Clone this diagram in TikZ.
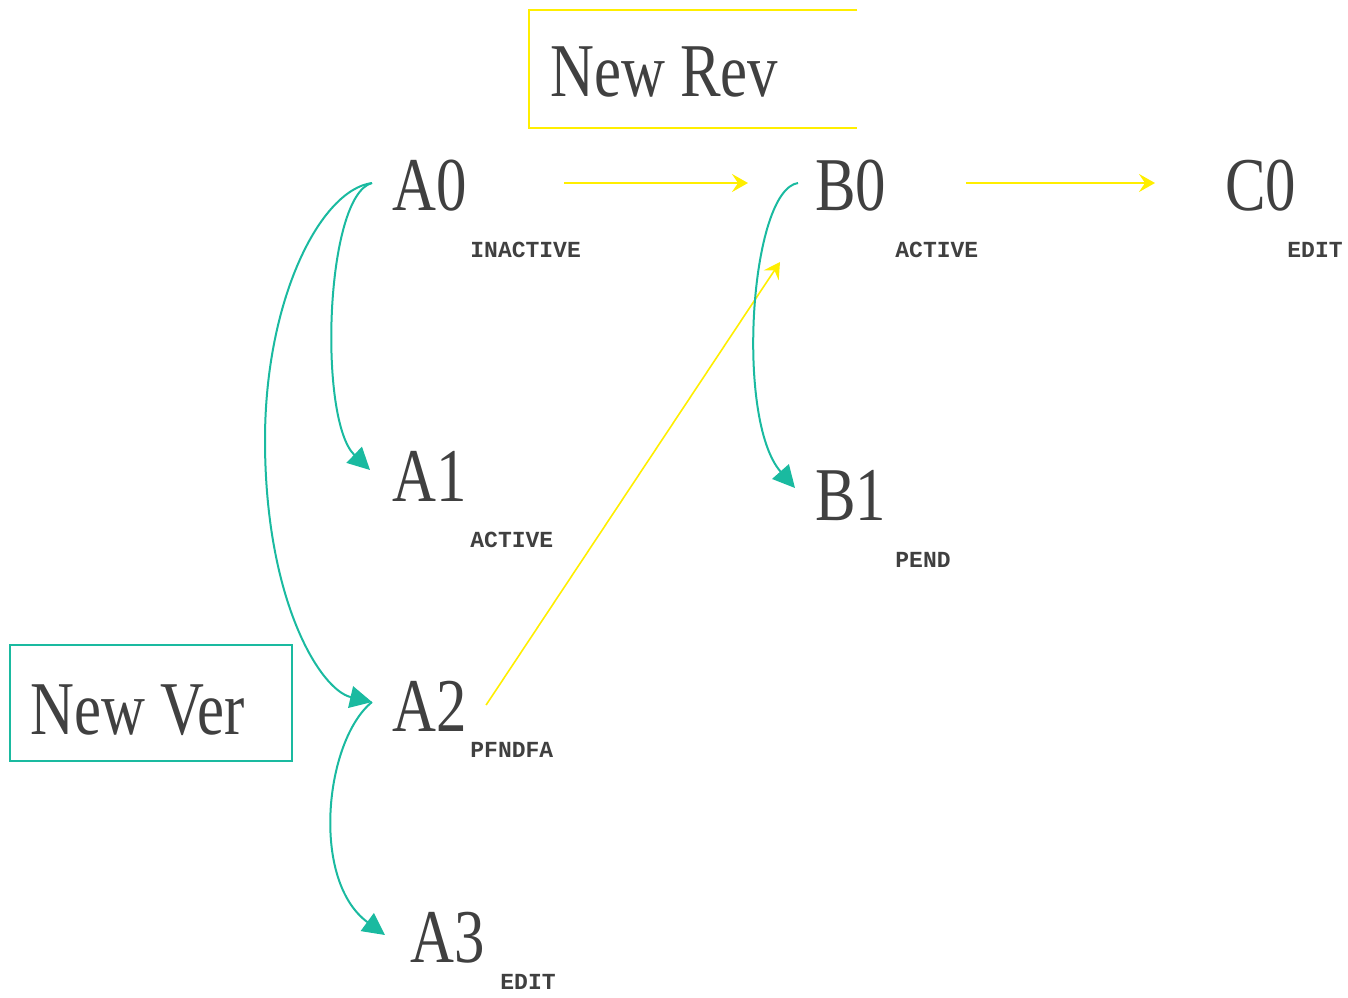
\documentclass[tikz,border=0pt]{standalone}
\usepackage{fontspec}
\setmainfont{Liberation Serif}
\newfontfamily\revfont[FakeStretch=0.8]{Liberation Serif}
\newfontfamily\tagfont{Liberation Mono}
\usetikzlibrary{arrows.meta,calc}
\definecolor{revyellow}{RGB}{255,238,0}
\definecolor{verteal}{RGB}{26,186,160}
\definecolor{inkgray}{RGB}{64,64,64}
\tikzset{
  part/.style={anchor=west,inner sep=0pt,text=inkgray,font=\revfont\fontsize{38}{40}\selectfont},
  tag/.style={anchor=west,inner sep=0pt,text=inkgray,font=\tagfont\bfseries\fontsize{11.5}{12}\selectfont},
  revline/.style={draw=revyellow,line width=1pt,-{Stealth[length=8pt,width=9pt,inset=3pt]}},
  verline/.style={draw=verteal,line width=1pt,-{Triangle[length=11pt,width=11pt]}},
}
\begin{document}
\begin{tikzpicture}[x=0.5pt,y=-0.5pt]
    \useasboundingbox (0,0) rectangle (1348,997);
    % frames
    \draw[revyellow,line width=1pt] (857,10) -- (529,10) -- (529,128) -- (857,128);
    \node[part] (rev) at (550,72) {New Rev};
    \draw[verteal,line width=1pt] (10,645) rectangle (292,761);
    \node[part] (ver) at (30,710) {New Ver};
    % parts
    \node[part] (A0) at (392,186) {A0};
    \node[part] (B0) at (815,186) {B0};
    \node[part] (C0) at (1225,186) {C0};
    \node[part] (A1) at (392,476) {A1};
    \node[part] (B1) at (815,496) {B1};
    \node[part] (A2) at (392,706) {A2};
    \node[part] (A3) at (410,938) {A3};
    % states
    \node[tag] (sA0) at (470,250) {INACTIVE};
    \node[tag] (sB0) at (895,250) {ACTIVE};
    \node[tag] (sC0) at (1287,250) {EDIT};
    \node[tag] (sA1) at (470,540) {ACTIVE};
    \node[tag] (sB1) at (895,560) {PEND};
    \node[tag] (sA2) at (470,750) {PFNDFA};
    \node[tag] (sA3) at (500,982) {EDIT};
    % revisions
    \draw[revline] ($(A0.east)+(97,-3)$) -- ($(B0.west)+(-67,-3)$);
    \draw[revline] ($(B0.east)+(79,-3)$) -- ($(C0.west)+(-70,-3)$);
    \draw[revline,line width=0.8pt] ($(A2.east)+(19,-1)$) -- ($(B0.west)+(-35,76)$);
    % versions
    \draw[verline] ($(A0.west)+(-20,-3)$) .. controls (325,195) and (318,420) .. ($(A1.west)+(-22,-6)$);
    \draw[verline] ($(A0.west)+(-20,-3)$) .. controls (320,190) and (265,300) .. (265,440)
        .. controls (265,600) and (320,690) .. ($(A2.west)+(-20,-4)$);
    \draw[verline] ($(A2.west)+(-20,-4)$) .. controls (325,740) and (310,880) .. ($(A3.west)+(-25,-3)$);
    \draw[verline] ($(B0.west)+(-17,-3)$) .. controls (750,190) and (735,420) .. ($(B1.west)+(-20,-8)$);
\end{tikzpicture}
\end{document}
